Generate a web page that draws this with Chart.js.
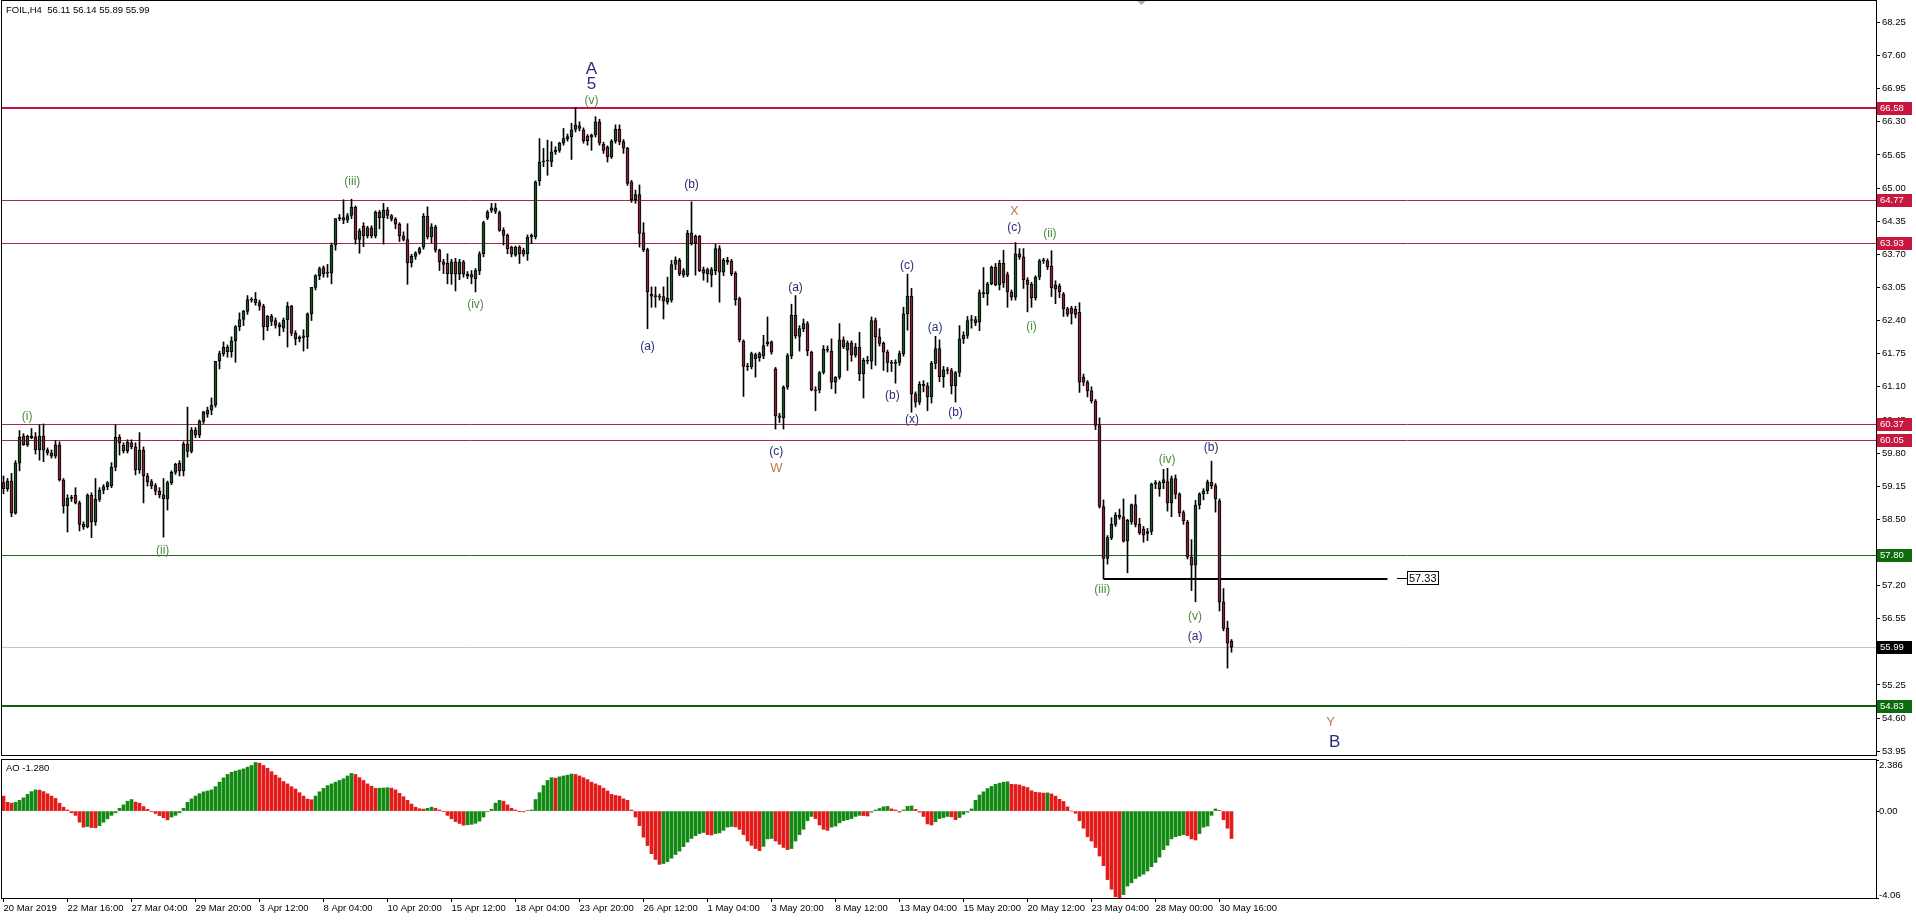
<!DOCTYPE html>
<html>
<head>
<meta charset="utf-8">
<script src="https://cdn.jsdelivr.net/npm/chart.js@4.4.0/dist/chart.umd.min.js"></script>
<style>
html,body{margin:0;padding:0;background:#fff;overflow:hidden}
#wrap{position:relative;width:1916px;height:923px;background:#fff}
#main{position:absolute;left:0;top:0;width:1916px;height:757px}
#ao{position:absolute;left:0;top:757px;width:1916px;height:166px}
</style>
</head>
<body>
<div id="wrap">
<canvas id="main" width="1916" height="757"></canvas>
<canvas id="ao" width="1916" height="166"></canvas>
</div>
<script>
// FOIL H4 candles, 20 Mar - 30 May 2019
const opens = [
59.22,59.10,59.25,58.62,59.60,60.13,59.96,60.13,60.12,59.86,
60.13,59.86,59.80,59.74,59.96,59.27,58.76,58.91,58.97,58.82,
58.40,58.35,58.97,58.45,58.89,59.07,59.14,59.16,59.52,60.11,
59.95,59.84,60.00,59.92,59.47,59.86,59.35,59.24,59.16,59.05,
58.98,58.90,59.22,59.42,59.60,59.45,59.98,59.83,60.25,60.15,
60.42,60.56,60.64,60.74,61.60,61.75,61.88,61.79,62.00,62.28,
62.42,62.58,62.81,62.82,62.75,62.68,62.28,62.48,62.40,62.32,
62.25,62.41,62.68,62.15,62.04,62.07,62.08,62.53,63.05,63.28,
63.44,63.33,63.33,63.88,64.40,64.42,64.37,64.46,64.62,63.99,
64.25,64.06,64.22,64.06,64.53,64.42,64.57,64.46,64.39,64.29,
64.06,63.99,63.53,63.66,63.73,63.84,64.45,64.04,64.24,63.78,
63.55,63.52,63.32,63.55,63.31,63.55,63.31,63.30,63.22,63.38,
63.71,64.42,64.56,64.61,64.52,64.17,64.07,63.84,63.68,63.84,
63.78,63.71,64.04,64.04,65.14,65.51,65.53,65.51,65.71,65.74,
65.88,65.97,66.01,66.15,66.22,66.14,66.02,66.00,66.04,66.30,
65.86,65.80,65.61,65.92,66.15,65.91,65.78,65.12,64.77,64.87,
64.12,63.79,62.92,62.88,62.87,62.87,62.76,62.80,63.50,63.58,
63.38,63.29,64.12,64.05,64.05,63.40,63.40,63.29,63.38,63.81,
63.35,63.58,63.56,63.33,62.83,61.99,61.50,61.49,61.73,61.67,
61.70,61.94,61.98,61.45,60.53,60.49,61.09,61.71,62.50,62.09,
62.24,62.34,61.78,61.04,61.04,61.38,61.84,61.80,61.19,61.29,
62.02,61.82,61.96,61.72,61.88,61.35,61.62,61.60,62.40,62.08,
61.95,61.78,61.58,61.56,61.58,61.75,62.53,62.88,60.96,60.80,
61.15,61.12,60.90,61.56,61.85,61.30,61.43,61.42,61.12,61.38,
62.04,62.11,62.40,62.42,62.37,62.95,62.92,63.12,63.45,63.10,
63.52,63.30,62.96,62.86,63.71,63.65,63.20,63.11,62.85,63.25,
63.57,63.57,63.47,63.10,63.08,62.92,62.63,62.64,62.62,62.56,
61.29,61.19,61.02,60.82,60.34,58.75,57.73,58.14,58.40,58.58,
58.55,58.07,58.45,58.79,58.40,58.30,58.22,58.26,59.19,59.10,
59.22,59.24,58.82,59.30,58.99,58.63,58.44,57.76,57.60,58.78,
59.00,59.06,59.23,59.16,58.86,56.88,56.36,56.11
];
const highs = [
59.35,59.30,59.40,59.65,60.24,60.18,60.15,60.28,60.20,60.35,
60.37,59.90,59.86,60.04,60.02,59.30,58.98,58.97,59.12,58.86,
58.45,59.00,59.02,59.30,59.12,59.18,59.24,59.61,60.35,60.16,
60.00,60.06,60.06,60.00,60.20,59.92,59.40,59.28,59.20,59.12,
59.30,59.25,59.45,59.60,59.65,60.02,60.70,60.30,60.30,60.45,
60.62,60.70,60.88,61.60,61.80,61.98,61.92,62.08,62.30,62.55,
62.60,62.89,62.85,62.95,62.80,62.72,62.50,62.52,62.45,62.36,
62.45,62.76,62.70,62.20,62.10,62.22,62.55,63.05,63.30,63.45,
63.47,63.50,63.92,64.40,64.48,64.77,64.50,64.78,64.65,64.20,
64.32,64.25,64.26,64.55,64.56,64.70,64.62,64.48,64.42,64.32,
64.14,64.30,63.70,63.75,63.84,64.50,64.63,64.30,64.27,63.80,
63.60,63.71,63.60,63.62,63.60,63.58,63.36,63.38,63.42,63.75,
64.35,64.56,64.70,64.70,64.55,64.22,64.10,63.86,63.86,63.87,
63.82,64.08,64.10,65.14,65.97,65.78,65.94,65.91,65.81,65.90,
66.17,66.06,66.27,66.58,66.30,66.18,66.05,66.06,66.40,66.35,
65.90,65.83,65.95,66.24,66.24,65.95,65.80,65.15,64.96,65.06,
64.32,63.82,63.06,63.06,62.92,63.06,63.25,63.58,63.65,63.62,
63.42,64.17,64.73,64.08,64.07,63.45,63.43,63.44,63.90,63.87,
63.62,63.64,63.60,63.36,62.86,62.02,61.56,61.78,61.76,61.78,
62.11,62.47,62.00,61.48,60.58,61.12,61.75,62.72,62.89,62.30,
62.43,62.38,61.80,61.10,61.40,61.91,61.90,62.04,61.30,62.34,
62.08,62.00,62.00,61.95,62.17,61.66,61.70,62.47,62.45,62.24,
61.98,61.82,61.62,61.63,61.80,62.66,63.31,63.03,61.00,61.20,
61.22,61.18,61.60,62.09,62.02,61.50,61.48,61.46,61.40,62.30,
62.18,62.48,62.50,62.48,63.00,63.44,63.15,63.47,63.52,63.58,
63.78,63.35,63.00,63.93,63.81,63.81,63.24,63.15,63.28,63.60,
63.62,63.61,63.77,63.18,63.12,62.95,62.66,62.68,62.68,62.75,
61.35,61.22,61.10,60.85,60.49,58.88,58.18,58.53,58.63,58.70,
58.90,58.50,58.80,58.98,58.52,58.36,58.32,59.21,59.26,59.25,
59.48,59.50,59.35,59.37,59.02,58.67,58.48,58.10,58.87,59.02,
59.10,59.27,59.64,59.20,58.90,57.14,56.50,56.14
];
const lows = [
59.00,59.05,58.55,58.60,59.45,59.95,59.93,60.08,59.78,59.66,
59.63,59.76,59.70,59.70,59.25,58.62,58.25,58.85,58.80,58.27,
58.30,58.33,58.14,58.38,58.85,59.00,59.08,59.12,59.45,59.76,
59.80,59.80,59.88,59.37,59.40,58.82,59.15,59.10,58.98,58.92,
58.15,58.68,59.18,59.38,59.35,59.35,59.72,59.80,60.10,60.10,
60.38,60.50,60.55,60.70,61.45,61.70,61.68,61.68,61.58,62.20,
62.30,62.52,62.76,62.70,62.60,62.02,62.20,62.30,62.25,62.10,
62.18,61.88,62.10,61.92,61.98,61.80,61.85,62.40,63.00,63.20,
63.25,63.25,63.12,63.78,64.36,64.30,64.32,64.40,63.90,63.72,
63.85,64.02,64.02,64.02,64.20,63.90,64.40,64.35,64.20,63.95,
63.96,63.11,63.45,63.60,63.70,63.80,64.00,63.92,63.74,63.38,
63.32,63.12,63.11,62.98,63.20,63.25,63.22,63.12,62.96,63.30,
63.65,64.38,64.52,64.50,64.15,63.88,63.71,63.65,63.66,63.52,
63.66,63.58,63.91,64.00,65.05,65.42,65.25,65.42,65.66,65.70,
65.84,65.92,65.56,66.10,66.12,65.88,65.84,65.74,66.00,65.84,
65.68,65.51,65.58,65.88,65.85,65.68,65.05,64.72,64.70,63.84,
63.75,62.24,62.66,62.66,62.80,62.43,62.72,62.76,63.40,63.28,
63.25,63.26,63.88,63.29,63.36,63.19,63.15,63.06,63.30,62.76,
63.28,63.50,63.28,62.70,61.98,60.91,61.42,61.45,61.29,61.60,
61.65,61.90,61.74,60.27,60.40,60.27,61.05,61.65,62.05,61.80,
62.18,61.71,61.02,60.63,60.98,61.35,61.78,61.06,60.97,61.25,
61.85,61.42,61.60,61.68,61.22,60.88,61.55,61.45,61.52,61.90,
61.42,61.39,61.40,61.17,61.52,61.70,62.21,60.60,60.70,60.75,
61.00,60.63,60.78,61.45,61.20,61.09,61.35,60.96,60.80,61.30,
61.95,62.05,62.25,62.30,62.20,62.85,62.70,63.10,63.08,63.00,
63.05,62.66,62.80,62.80,63.60,63.03,62.57,62.66,62.80,63.20,
63.52,63.40,62.87,62.73,62.85,62.48,62.48,62.33,62.45,60.99,
61.12,60.90,60.78,60.26,58.72,57.33,57.62,58.10,58.36,58.50,
58.05,57.45,58.40,58.35,58.20,58.05,58.08,58.20,59.10,58.95,
59.10,58.66,58.55,58.90,58.55,58.40,57.72,57.10,56.88,58.70,
58.88,59.00,59.10,58.64,56.70,56.31,55.58,55.89
];
const closes = [
59.10,59.25,58.62,59.60,60.11,59.96,60.13,60.10,59.86,60.13,
59.86,59.80,59.74,59.96,59.27,58.76,58.91,58.92,58.82,58.40,
58.35,58.97,58.45,58.89,59.07,59.14,59.22,59.52,60.11,60.00,
59.84,60.01,59.92,59.47,59.86,59.35,59.24,59.16,59.05,58.98,
58.90,59.22,59.42,59.58,59.45,59.98,59.83,60.25,60.15,60.42,
60.61,60.64,60.74,61.60,61.75,61.88,61.79,62.00,62.28,62.42,
62.58,62.81,62.80,62.75,62.68,62.28,62.48,62.38,62.31,62.28,
62.41,62.68,62.15,62.04,62.07,62.10,62.53,63.05,63.28,63.42,
63.32,63.35,63.88,64.40,64.42,64.37,64.46,64.62,63.99,64.16,
64.06,64.22,64.06,64.53,64.42,64.57,64.46,64.39,64.29,64.06,
63.99,63.53,63.66,63.73,63.81,64.45,64.04,64.24,63.78,63.55,
63.50,63.32,63.55,63.31,63.55,63.31,63.27,63.25,63.38,63.71,
64.32,64.53,64.61,64.54,64.17,64.07,63.81,63.70,63.84,63.71,
63.70,64.03,64.07,65.12,65.51,65.53,65.53,65.71,65.74,65.88,
65.97,66.01,66.14,66.24,66.17,65.93,65.93,66.04,66.30,65.88,
65.74,65.61,65.92,66.15,65.91,65.78,65.09,64.77,64.87,64.11,
63.79,62.96,62.88,62.87,62.86,62.78,62.84,63.50,63.59,63.32,
63.29,64.11,63.91,63.92,63.38,63.33,63.32,63.40,63.81,63.35,
63.58,63.55,63.32,62.81,62.02,61.50,61.49,61.75,61.65,61.75,
61.91,61.98,61.78,60.53,60.50,61.09,61.71,62.50,62.10,62.24,
62.34,61.81,61.04,61.02,61.38,61.84,61.82,61.19,61.29,62.02,
61.88,61.96,61.72,61.88,61.35,61.62,61.60,62.40,62.08,61.95,
61.78,61.58,61.56,61.58,61.75,62.53,62.88,60.96,60.80,61.15,
61.12,60.90,61.56,61.85,61.30,61.43,61.42,61.12,61.38,62.04,
62.11,62.40,62.42,62.36,62.95,62.92,63.12,63.45,63.10,63.52,
63.14,62.96,62.86,63.71,63.65,63.20,63.11,62.85,63.25,63.57,
63.59,63.45,63.04,63.02,62.96,62.63,62.52,62.54,62.52,61.19,
61.19,61.02,60.82,60.34,58.75,57.73,58.14,58.40,58.58,58.54,
58.07,58.48,58.79,58.40,58.23,58.19,58.26,59.19,59.22,59.22,
59.28,58.82,59.30,58.99,58.63,58.47,57.76,57.60,58.78,59.00,
59.06,59.23,59.16,58.90,56.88,56.36,56.07,55.99
];
// Awesome Oscillator, one value per candle
const aoValues = [
0.70,0.41,0.37,0.41,0.50,0.62,0.78,0.91,0.99,0.98,
0.91,0.81,0.70,0.59,0.37,0.18,0.05,-0.08,-0.20,-0.52,
-0.75,-0.72,-0.77,-0.78,-0.68,-0.52,-0.36,-0.20,-0.08,0.13,
0.29,0.46,0.54,0.42,0.37,0.21,0.08,-0.03,-0.11,-0.21,
-0.31,-0.41,-0.28,-0.20,-0.08,0.13,0.41,0.57,0.70,0.81,
0.90,0.94,0.99,1.14,1.35,1.55,1.71,1.81,1.87,1.92,
1.97,2.05,2.13,2.27,2.24,2.13,2.00,1.84,1.68,1.55,
1.38,1.27,1.14,1.03,0.86,0.70,0.56,0.53,0.70,0.90,
1.06,1.19,1.27,1.35,1.43,1.51,1.64,1.76,1.71,1.56,
1.43,1.27,1.16,1.06,1.07,1.08,1.09,1.07,0.99,0.83,
0.67,0.50,0.33,0.18,0.11,0.09,0.13,0.18,0.13,0.05,
-0.03,-0.20,-0.36,-0.49,-0.58,-0.66,-0.64,-0.62,-0.57,-0.47,
-0.28,-0.03,0.08,0.37,0.50,0.46,0.29,0.13,0.05,-0.01,
-0.04,0.02,0.05,0.54,0.86,1.19,1.43,1.56,1.54,1.60,
1.64,1.68,1.73,1.71,1.64,1.56,1.47,1.35,1.27,1.19,
1.07,0.94,0.78,0.73,0.70,0.57,0.50,0.05,-0.28,-0.68,
-1.22,-1.61,-1.99,-2.26,-2.49,-2.45,-2.36,-2.20,-2.03,-1.87,
-1.66,-1.45,-1.28,-1.15,-1.05,-1.00,-1.10,-1.12,-1.05,-1.02,
-0.90,-0.75,-0.72,-0.74,-0.85,-1.10,-1.40,-1.60,-1.75,-1.85,
-1.65,-1.30,-1.28,-1.40,-1.55,-1.70,-1.80,-1.75,-1.40,-1.10,
-0.85,-0.45,-0.25,-0.35,-0.65,-0.85,-0.90,-0.75,-0.70,-0.55,
-0.45,-0.40,-0.35,-0.25,-0.20,-0.21,-0.23,-0.05,0.05,0.12,
0.20,0.22,0.10,0.05,-0.05,0.05,0.22,0.24,0.08,-0.05,
-0.25,-0.60,-0.65,-0.50,-0.35,-0.30,-0.25,-0.27,-0.40,-0.30,
-0.15,-0.05,0.10,0.50,0.75,0.90,1.05,1.15,1.25,1.30,
1.35,1.37,1.25,1.24,1.22,1.15,1.10,0.95,0.88,0.86,
0.84,0.85,0.80,0.70,0.55,0.45,0.20,0.00,-0.10,-0.45,
-0.80,-1.20,-1.40,-1.70,-2.10,-2.55,-3.20,-3.65,-4.00,-4.06,
-3.90,-3.50,-3.35,-3.15,-3.05,-2.95,-2.80,-2.60,-2.40,-2.15,
-1.80,-1.60,-1.30,-1.20,-1.15,-1.10,-1.15,-1.30,-1.35,-1.05,
-0.75,-0.70,-0.20,0.10,0.03,-0.40,-0.80,-1.28
];

const priceTicks = [53.95,54.60,55.25,55.90,56.55,57.20,57.85,58.50,59.15,59.80,60.45,61.10,
  61.75,62.40,63.05,63.70,64.35,65.00,65.65,66.30,66.95,67.60,68.25];
const aoTicks = [2.386, 0, -4.06];
const aoTickText = ['2.386', '0.00', '-4.06'];
const xTickBars = [0,16,32,48,64,80,96,112,128,144,160,176,192,208,224,240,256,272,288,304];
const xTickLabels = ['20 Mar 2019','22 Mar 16:00','27 Mar 04:00','29 Mar 20:00','3 Apr 12:00',
  '8 Apr 04:00','10 Apr 20:00','15 Apr 12:00','18 Apr 04:00','23 Apr 20:00','26 Apr 12:00',
  '1 May 04:00','3 May 20:00','8 May 12:00','13 May 04:00','15 May 20:00','20 May 12:00',
  '23 May 04:00','28 May 00:00','30 May 16:00'];

// horizontal levels
const levelPrices = [66.58, 64.77, 63.93, 60.37, 60.05, 57.80, 54.83];
const trendPrice = 57.33;
const trendFrom = 275, trendTo = 346;

// wave count labels (bar index, price)
const waveText   = ['(i)','(ii)','(iii)','(iv)','(v)','5','A','(a)','(b)','(c)','W','(a)','(b)','(c)',
  '(x)','(a)','(b)','X','(c)','(i)','(ii)','(iii)','(iv)','(v)','(a)','(b)','Y','B'];
const waveBar    = [5.9,39.8,87.2,118,147,147,147,161,172,193.2,193.2,198,222.2,225.9,
  227.1,232.9,238,252.7,252.7,257,261.6,274.7,290.9,297.9,297.9,301.9,331.8,332.8];
const wavePrice  = [60.52,57.88,65.13,62.72,66.72,67.04,67.32,61.89,65.07,59.82,59.49,63.05,60.93,63.48,
  60.45,62.25,60.60,64.54,64.22,62.28,64.10,57.11,59.66,56.58,56.20,59.90,54.52,54.13];
const waveDegree = ['minute','minute','minute','minute','minute','major','major','minor','minor','minor','inter','minor','minor','minor',
  'minor','minor','minor','inter','minor','minute','minute','minute','minute','minute','minor','minor','inter','major'];

if ([opens, highs, lows, aoValues].some(a => a.length !== closes.length)) {
  throw new Error('length mismatch ' + [opens.length, highs.length, lows.length, closes.length, aoValues.length]);
}

// ---- styles ----
const FONT = '"Liberation Sans", Arial, sans-serif';
const BULL = '#1d5128', BEAR = '#7e2634';
const AO_UP = '#138a13', AO_DOWN = '#e31b1b';
const LEVEL_STYLE = [
  {color: '#c0163e', width: 2, box: '#c8173f'},
  {color: '#a8284c', width: 1, box: '#c8173f'},
  {color: '#a8284c', width: 1, box: '#c8173f'},
  {color: '#a8284c', width: 1, box: '#c8173f'},
  {color: '#a8284c', width: 1, box: '#c8173f'},
  {color: '#1f6a1f', width: 1, box: '#0d6b0d'},
  {color: '#0d5f0d', width: 2, box: '#0d6b0d'}
];
const WAVE_STYLE = {
  minute: {color: '#4b8a3f', font: '12px ' + FONT},
  minor:  {color: '#2b2b7c', font: '12px ' + FONT},
  inter:  {color: '#b87b50', font: '13px ' + FONT},
  major:  {color: '#2b2b7c', font: '17px ' + FONT}
};
const XMIN = -0.375, XMAX = 468.125;
const PMIN = 53.874, PMAX = 68.670;

const bars = closes.map((_, i) => i);

function hline(ctx, x0, x1, py, color, w) {
  const yy = w % 2 ? Math.round(py) + 0.5 : Math.round(py);
  ctx.strokeStyle = color;
  ctx.lineWidth = w;
  ctx.beginPath();
  ctx.moveTo(x0, yy);
  ctx.lineTo(x1, yy);
  ctx.stroke();
}

// keep the plot area where we put it: no extra room for edge labels
function noPad(s) {
  s.paddingTop = 0;
  s.paddingBottom = 0;
  s.paddingLeft = 0;
  s.paddingRight = 0;
}

const mainDeco = {
  id: 'mainDeco',
  beforeDatasetsDraw(c) {
    const {ctx, chartArea: a, scales: {x, y}} = c;
    ctx.save();
    ctx.beginPath();
    ctx.rect(a.left, a.top, a.right - a.left, a.bottom - a.top);
    ctx.clip();
    hline(ctx, a.left, a.right, y.getPixelForValue(closes[closes.length - 1]), '#c4c4c4', 1);
    levelPrices.forEach((p, k) =>
      hline(ctx, a.left, a.right, y.getPixelForValue(p), LEVEL_STYLE[k].color, LEVEL_STYLE[k].width));
    hline(ctx, x.getPixelForValue(trendFrom), x.getPixelForValue(trendTo), y.getPixelForValue(trendPrice), '#000', 2);
    ctx.restore();
  },
  afterDatasetsDraw(c) {
    const {ctx, chartArea: a, scales: {x, y}} = c;
    ctx.save();
    ctx.textAlign = 'center';
    ctx.textBaseline = 'middle';
    waveText.forEach((t, k) => {
      const st = WAVE_STYLE[waveDegree[k]];
      ctx.font = st.font;
      ctx.fillStyle = st.color;
      ctx.fillText(t, x.getPixelForValue(waveBar[k]), y.getPixelForValue(wavePrice[k]));
    });
    // price tag at the end of the trend line
    const ty = Math.round(y.getPixelForValue(trendPrice));
    const lx = Math.round(x.getPixelForValue(trendTo + 2.3));
    ctx.strokeStyle = '#000';
    ctx.lineWidth = 1;
    ctx.beginPath();
    ctx.moveTo(lx, ty - 0.5);
    ctx.lineTo(lx + 10, ty - 0.5);
    ctx.stroke();
    ctx.font = '11px ' + FONT;
    const txt = trendPrice.toFixed(2);
    const w = Math.ceil(ctx.measureText(txt).width) + 3;
    ctx.fillStyle = '#fff';
    ctx.fillRect(lx + 10.5, ty - 7.5, w, 13);
    ctx.strokeRect(lx + 10.5, ty - 7.5, w, 13);
    ctx.fillStyle = '#000';
    ctx.textAlign = 'left';
    ctx.fillText(txt, lx + 12, ty - 0.5);
    ctx.restore();
  },
  afterDraw(c) {
    const {ctx, chartArea: a, scales: {y}} = c;
    ctx.save();
    ctx.strokeStyle = '#000';
    ctx.lineWidth = 1;
    ctx.strokeRect(a.left - 0.5, a.top - 0.5, a.right - a.left + 1, a.bottom - a.top + 1);
    ctx.font = '9.5px ' + FONT;
    ctx.textBaseline = 'middle';
    ctx.textAlign = 'left';
    const tags = levelPrices.map((p, k) => [p, LEVEL_STYLE[k].box]);
    tags.push([closes[closes.length - 1], '#000']);
    tags.forEach(([p, col]) => {
      const py = Math.round(y.getPixelForValue(p));
      ctx.fillStyle = col;
      ctx.fillRect(a.right + 1, py - 6, 35, 13);
      ctx.fillStyle = '#fff';
      ctx.fillText(p.toFixed(2), a.right + 4, py + 0.5);
    });
    const last = closes.length - 1;
    ctx.fillStyle = '#000';
    ctx.fillText('FOIL,H4  ' + [opens[last], highs[last], lows[last], closes[last]].map(v => v.toFixed(2)).join(' '),
      a.left + 4, a.top + 9);
    // chart shift marker
    const mx = Math.round(a.left + (a.right - a.left) * 0.608) + 0.5;
    ctx.fillStyle = '#a8a8a8';
    ctx.beginPath();
    ctx.moveTo(mx - 4, a.top);
    ctx.lineTo(mx + 4, a.top);
    ctx.lineTo(mx, a.top + 4);
    ctx.closePath();
    ctx.fill();
    ctx.restore();
  }
};

new Chart(document.getElementById('main'), {
  type: 'bar',
  data: {
    datasets: [
      {
        label: 'range',
        data: bars.map(i => ({x: i, y: [lows[i], highs[i]]})),
        backgroundColor: '#000',
        barThickness: 1,
        grouped: false,
        order: 2
      },
      {
        label: 'body',
        data: bars.map(i => ({x: i, y: [opens[i], closes[i]]})),
        backgroundColor: bars.map(i => closes[i] >= opens[i] ? BULL : BEAR),
        borderColor: '#000',
        borderWidth: 1,
        borderSkipped: false,
        barThickness: 3,
        minBarLength: 1,
        grouped: false,
        order: 1
      }
    ]
  },
  options: {
    responsive: false,
    animation: false,
    devicePixelRatio: 1,
    layout: {padding: {left: 2, top: 1, right: 0, bottom: 2}},
    plugins: {legend: {display: false}, tooltip: {enabled: false}},
    scales: {
      x: {type: 'linear', min: XMIN, max: XMAX, offset: false, bounds: 'data', display: false,
          grid: {offset: false}},
      y: {
        position: 'right', min: PMIN, max: PMAX, bounds: 'data',
        afterBuildTicks: s => { s.ticks = priceTicks.map(v => ({value: v})); },
        afterFit: s => { s.width = 40; noPad(s); },
        ticks: {color: '#000', font: {family: FONT, size: 9.5}, padding: 2, autoSkip: false,
                callback: v => v.toFixed(2)},
        grid: {drawOnChartArea: false, drawTicks: true, tickLength: 4, color: '#000', tickColor: '#000'},
        border: {display: true, color: '#000'}
      }
    }
  },
  plugins: [mainDeco]
});

const aoDeco = {
  id: 'aoDeco',
  afterDraw(c) {
    const {ctx, chartArea: a, scales: {y}} = c;
    ctx.save();
    ctx.strokeStyle = '#000';
    ctx.lineWidth = 1;
    ctx.strokeRect(a.left - 0.5, a.top - 0.5, a.right - a.left + 1, a.bottom - a.top + 1);
    ctx.font = '9.5px ' + FONT;
    ctx.fillStyle = '#000';
    ctx.textBaseline = 'middle';
    ctx.textAlign = 'left';
    aoTicks.forEach((v, k) => {
      const py = Math.min(Math.max(y.getPixelForValue(v), a.top + 5), a.bottom - 3);
      ctx.fillText(aoTickText[k], a.right + 3, py);
    });
    ctx.fillText('AO ' + aoValues[aoValues.length - 1].toFixed(3), a.left + 4, a.top + 8);
    ctx.restore();
  }
};

new Chart(document.getElementById('ao'), {
  type: 'bar',
  data: {
    datasets: [{
      label: 'AO',
      data: bars.map(i => ({x: i, y: aoValues[i]})),
      backgroundColor: bars.map(i => i > 0 && aoValues[i] > aoValues[i - 1] ? AO_UP : AO_DOWN),
      barThickness: 3,
      grouped: false
    }]
  },
  options: {
    responsive: false,
    animation: false,
    devicePixelRatio: 1,
    layout: {padding: {left: 2, top: 3, right: 0, bottom: 0}},
    plugins: {legend: {display: false}, tooltip: {enabled: false}},
    scales: {
      x: {
        type: 'linear', min: XMIN, max: XMAX, offset: false, bounds: 'data', position: 'bottom',
        afterBuildTicks: s => { s.ticks = xTickBars.map(v => ({value: v})); },
        afterFit: s => { s.height = 25; noPad(s); },
        ticks: {autoSkip: false, maxRotation: 0, minRotation: 0, align: 'start', padding: 1,
                color: '#000', font: {family: FONT, size: 9.5},
                callback: (v, i) => xTickLabels[i]},
        grid: {drawOnChartArea: false, drawTicks: true, tickLength: 4, color: '#000', tickColor: '#000', offset: false},
        border: {display: true, color: '#000'}
      },
      y: {
        position: 'right', min: -4.06, max: 2.386, bounds: 'data',
        afterBuildTicks: s => { s.ticks = aoTicks.map(v => ({value: v})); },
        afterFit: s => { s.width = 40; noPad(s); },
        ticks: {display: false},
        grid: {drawOnChartArea: false, drawTicks: true, tickLength: 3, color: '#000', tickColor: '#000'},
        border: {display: true, color: '#000'}
      }
    }
  },
  plugins: [aoDeco]
});
</script>
</body>
</html>
